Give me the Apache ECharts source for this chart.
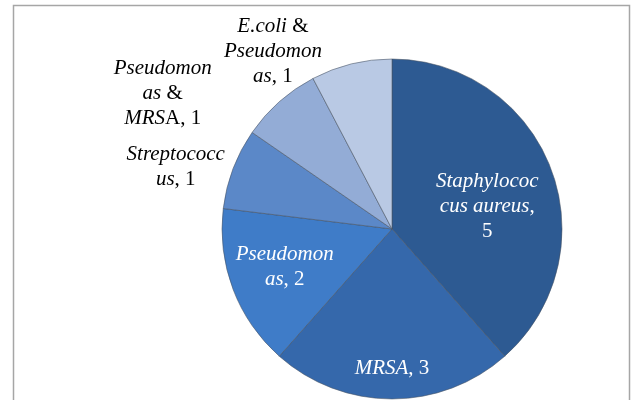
<!DOCTYPE html>
<html>
<head>
<meta charset="utf-8">
<script src="https://cdn.jsdelivr.net/npm/echarts@6/dist/echarts.min.js"></script>
<style>
  html, body { margin: 0; padding: 0; background: #fff; }
  #chart { width: 635px; height: 400px; }
</style>
</head>
<body>
<div id="chart"></div>
<script>
  // slices, clockwise from 12 o'clock
  const names = ['Staphylococcus aureus', 'MRSA', 'Pseudomonas', 'Streptococcus', 'Pseudomonas & MRSA', 'E.coli & Pseudomonas'];
  const values = [5, 3, 2, 1, 1, 1];
  // label text as wrapped in the original ({i|...} = italic)
  const labelTexts = [
    '{i|Staphylococ}\n{i|cus aureus}{n|,}\n{n|5}',
    '{i|MRSA}{n|, 3}',
    '{i|Pseudomon}\n{i|as}{n|, 2}',
    '{i|Streptococc}\n{i|us}{n|, 1}',
    '{i|Pseudomon}\n{i|as} {n|&}\n{i|MRS}{n|A, 1}',
    '{i|E.coli} {n|&}\n{i|Pseudomon}\n{i|as}{n|, 1}'
  ];
  const colors = ['#2d5a92', '#3568ab', '#3f7cc8', '#5b88c8', '#93acd6', '#b9c9e4'];
  const labelColors = ['#fff', '#fff', '#fff', '#000', '#000', '#000'];
  const labelOffsets = [[13, 9], [0, 51], [-25, 7], [-134, -31], [-171, -70], [-98, -92]];

  const chart = echarts.init(document.getElementById('chart'));

  const seriesData = names.map((n, i) => ({
    name: n,
    value: values[i],
    itemStyle: {color: colors[i]},
    label: {
      formatter: labelTexts[i],
      offset: labelOffsets[i],
      rich: {
        i: {fontStyle: 'italic', fontFamily: 'Liberation Serif', fontSize: 21, lineHeight: 25, color: labelColors[i]},
        n: {fontFamily: 'Liberation Serif', fontSize: 21, lineHeight: 25, color: labelColors[i]}
      }
    }
  }));

  chart.setOption({
    animation: false,
    graphic: [{
      type: 'rect',
      shape: {x: 13.5, y: 5.5, width: 616, height: 410},
      style: {fill: 'none', stroke: '#a6a6a6', lineWidth: 1.5},
      silent: true
    }],
    series: [{
      type: 'pie',
      center: [392, 229],
      radius: 170,
      startAngle: 90,
      clockwise: true,
      avoidLabelOverlap: false,
      itemStyle: {borderColor: 'rgba(70,80,95,0.55)', borderWidth: 1},
      label: {
        show: true,
        position: 'inside',
        fontFamily: 'Liberation Serif',
        fontSize: 21
      },
      labelLine: {show: false},
      data: seriesData
    }]
  });
</script>
</body>
</html>
